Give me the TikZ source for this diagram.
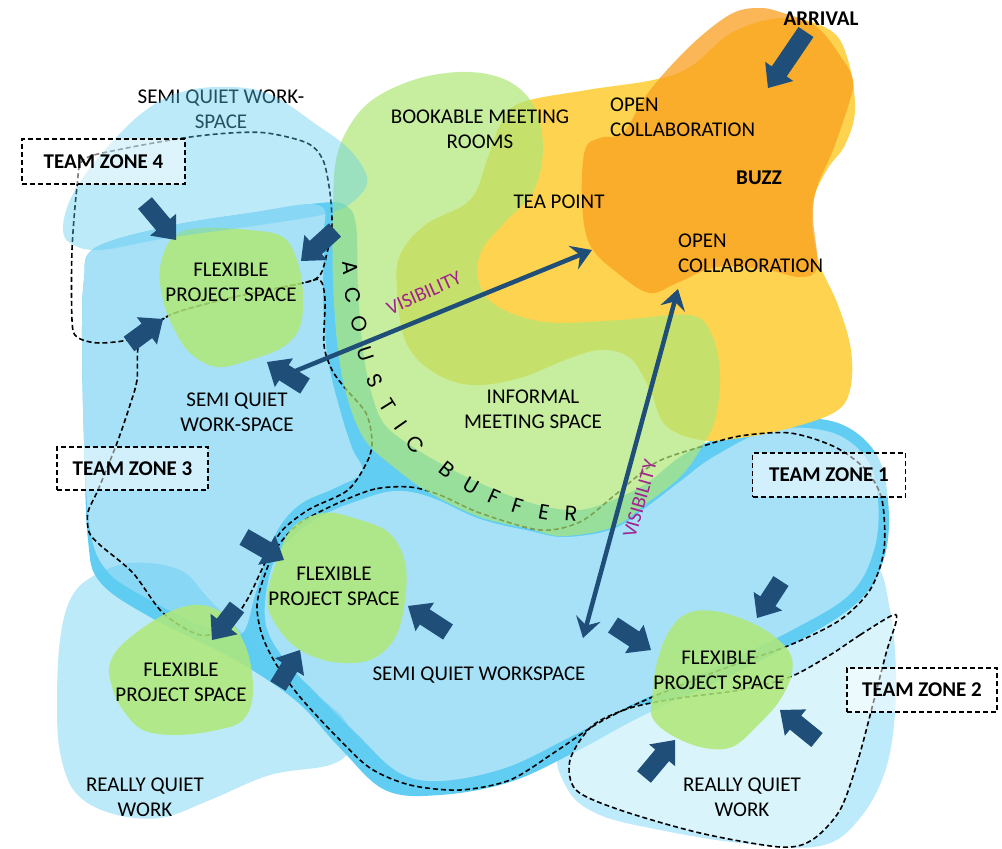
\documentclass[tikz,border=0pt]{standalone}
\usepackage{fontspec}
\setmainfont{Carlito}
\newfontfamily\geofont{Poppins}
\usetikzlibrary{calc,arrows.meta}

\definecolor{navy}{HTML}{1F4E79}
\definecolor{bluedark}{HTML}{62CDF2}
\definecolor{bluemid}{HTML}{A6E1F8}
\definecolor{bluetint}{HTML}{5BCBF1}
\definecolor{bluepale}{HTML}{BDEBFB}
\definecolor{sun}{HTML}{FDD34F}
\definecolor{buzz}{HTML}{FA9F1F}
\definecolor{leaf}{HTML}{B0E877}
\definecolor{visi}{HTML}{A3218E}

\tikzset{
  zoneline/.style={draw=black, line width=1.6pt, dash pattern=on 5pt off 3pt},
  lbl/.style={font=\fontsize{21}{25}\selectfont, align=center, inner sep=0pt},
  boldlbl/.style={font=\bfseries\fontsize{21}{25}\selectfont, align=center, inner sep=0pt},
  zonebox/.style={draw=black, line width=1.6pt, dash pattern=on 5pt off 3pt,
    fill=white, fill opacity=0.5, text opacity=1,
    font=\bfseries\fontsize{21}{25}\selectfont, inner sep=0pt},
  bufletter/.style={font=\geofont\fontsize{21}{21}\selectfont, inner sep=0pt},
  visilbl/.style={text=visi, font=\fontsize{20}{20}\selectfont, inner sep=0pt},
  sightline/.style={draw=navy, line width=4.5pt,
    arrows={-Stealth[length=20pt,width=25pt,inset=7pt]}},
}

% block arrow from tail #1 to tip #2
\newcommand\blockarrow[2]{%
  \coordinate (bahead) at ($(#2)!20pt!(#1)$);
  \fill[navy] ($(#1)!9pt!90:(#2)$) -- ($(bahead)!9pt!90:(#2)$)
    -- ($(bahead)!17pt!90:(#2)$) -- (#2) -- ($(bahead)!17pt!-90:(#2)$)
    -- ($(bahead)!9pt!-90:(#2)$) -- ($(#1)!9pt!-90:(#2)$) -- cycle;
}

\begin{document}
\begin{tikzpicture}[x=1pt,y=-1pt]
\useasboundingbox (0,0) rectangle (1002,849);
\fill[white] (0,0) rectangle (1002,849);

% really quiet area, bottom right
\fill[bluepale] plot[smooth cycle, tension=0.6] coordinates {
 (560,745) (620,700) (720,650) (800,610) (870,565) (890,610) (896,690)
 (887,765) (860,818) (820,846) (740,843) (660,830) (600,815) (568,790)};

% semi quiet workspace: dark base
\fill[bluedark] plot[smooth cycle, tension=0.6] coordinates {
 (95,248) (170,226) (250,213) (320,203) (345,205) (356,225) (358,290)
 (363,350) (372,395) (385,425) (413,447) (447,467) (480,483) (513,497)
 (547,507) (580,510) (613,500) (647,483) (680,457) (713,440) (770,420)
 (835,422) (875,452) (888,500) (885,555) (860,600) (800,640) (710,685)
 (640,717) (575,752) (510,782) (440,795) (385,790) (340,748) (295,700)
 (230,657) (150,617) (100,582) (88,540) (84,440) (82,340) (84,280)};
% semi quiet workspace: lighter left part
\fill[bluemid] plot[smooth cycle, tension=0.6] coordinates {
 (95,248) (170,226) (250,213) (318,205) (324,235) (323,300) (328,360)
 (340,410) (352,448) (362,472) (335,488) (302,503) (280,526) (266,558)
 (255,595) (240,635) (200,625) (150,600) (108,572) (90,530) (84,440)
 (82,340) (84,280)};
% semi quiet workspace: lighter bottom part
\fill[bluemid] plot[smooth cycle, tension=0.6] coordinates {
 (282,548) (318,518) (360,500) (395,491) (430,497) (480,519) (530,531)
 (565,537) (613,529) (648,506) (682,480) (715,456) (770,430) (830,432)
 (866,458) (878,500) (874,550) (850,594) (792,630) (705,672) (635,703)
 (568,738) (505,768) (440,781) (398,772) (358,735) (318,695) (285,660)
 (266,625) (268,582)};

% really quiet area, bottom left
\fill[bluetint, opacity=0.4] plot[smooth cycle, tension=0.6] coordinates {
 (57,700) (60,640) (70,600) (90,578) (130,563) (180,570) (210,600)
 (260,650) (310,690) (345,720) (350,748) (330,765) (270,775) (210,800)
 (160,818) (110,813) (75,792) (60,752)};

% team zone 2 highlight
\fill[white, opacity=0.45] plot[smooth cycle, tension=0.5] coordinates {
 (893,615) (860,635) (830,655) (790,677) (740,690) (680,698) (630,708)
 (592,726) (570,760) (576,790) (620,810) (700,833) (780,847) (812,840)
 (840,810) (858,760) (874,700) (887,650) (896,622)};

% tea point / open collaboration
\fill[sun] plot[smooth cycle, tension=0.6] coordinates {
 (520,103) (587,90) (653,80) (690,67) (733,32) (783,18) (830,30) (848,60)
 (855,110) (845,145) (828,168) (814,197) (812,227) (820,265) (838,305)
 (851,350) (850,390) (835,412) (790,428) (740,438) (700,440) (665,425)
 (650,390) (630,358) (600,350) (565,360) (520,378) (470,385) (430,370)
 (405,340) (397,290) (400,255) (425,225) (470,200) (487,160) (500,125)};
% buzz
\fill[buzz, opacity=0.75] plot[smooth cycle, tension=0.6] coordinates {
 (650,293) (677,283) (717,267) (767,270) (800,277) (817,267) (813,217)
 (817,187) (833,150) (850,100) (853,80) (843,60) (817,27) (783,13) (760,8)
 (733,13) (700,37) (667,70) (643,100) (623,133) (600,138) (585,150)
 (582,200) (590,245) (620,275)};

% team zone outlines
\draw[zoneline] plot[smooth cycle, tension=0.5] coordinates {
 (72,320) (72,250) (77,187) (83,160) (117,150) (183,138) (230,133)
 (267,133) (307,143) (323,160) (330,193) (332,227) (327,253) (320,275)
 (303,283) (230,298) (170,315) (140,337) (100,343) (77,337)};
\draw[zoneline] plot[smooth cycle, tension=0.5] coordinates {
 (140,340) (137,380) (130,405) (117,443) (98,490) (88,512) (89,532)
 (100,545) (133,573) (163,613) (200,635) (227,627) (247,600) (263,567)
 (280,533) (308,510) (348,490) (368,460) (372,440) (366,413) (345,388)
 (332,370) (324,345) (325,300) (320,280) (303,283) (230,298) (170,315)};
\draw[zoneline] plot[smooth cycle, tension=0.5] coordinates {
 (410,487) (375,489) (338,503) (300,523) (278,546) (265,574) (257,605)
 (262,635) (276,664) (300,697) (335,735) (370,768) (410,785) (460,790)
 (510,780) (555,752) (600,722) (650,698) (720,670) (790,645) (840,620)
 (870,590) (884,550) (882,500) (866,470) (835,447) (790,433) (740,436)
 (700,447) (655,463) (615,495) (580,522) (540,530) (480,513) (440,495)};
\draw[zoneline] plot[smooth cycle, tension=0.5] coordinates {
 (893,615) (860,635) (830,655) (790,677) (740,690) (680,698) (630,708)
 (592,726) (570,760) (576,790) (620,810) (700,833) (780,847) (812,840)
 (840,810) (858,760) (874,700) (887,650) (896,622)};

% meeting rooms and acoustic buffer
\fill[leaf, opacity=0.7] plot[smooth cycle, tension=0.6] coordinates {
 (333,210) (336,160) (350,125) (375,98) (420,78) (470,72) (510,82)
 (535,108) (543,150) (533,192) (505,222) (482,250) (478,278) (495,305)
 (545,322) (620,320) (690,315) (712,335) (720,375) (715,420) (700,450)
 (680,477) (647,503) (613,527) (563,536) (530,529) (480,517) (430,493)
 (395,468) (365,440) (348,400) (338,350) (333,280)};

% flexible project spaces
\fill[leaf, opacity=0.85] plot[smooth cycle, tension=0.6] coordinates {
 (160,267) (173,237) (200,228) (250,230) (283,237) (297,260) (303,293)
 (300,327) (283,347) (250,360) (217,367) (190,353) (173,327) (163,300)};
\fill[leaf, opacity=0.85] plot[smooth cycle, tension=0.6] coordinates {
 (267,600) (277,560) (293,527) (323,513) (350,517) (388,532) (405,562)
 (405,600) (395,638) (370,660) (333,662) (300,650) (278,628)};
\fill[leaf, opacity=0.85] plot[smooth cycle, tension=0.6] coordinates {
 (110,663) (127,640) (167,613) (200,605) (227,617) (247,650) (253,693)
 (243,720) (217,730) (177,735) (143,730) (123,710) (112,687)};
\fill[leaf, opacity=0.85] plot[smooth cycle, tension=0.6] coordinates {
 (652,700) (656,667) (668,633) (688,613) (720,612) (760,627) (788,650)
 (792,673) (780,700) (760,723) (732,747) (700,747) (668,733) (652,717)};

% label under the tinted upper left area
\node[lbl] (semitop) at (221,109) {SEMI QUIET WORK-\\SPACE};

% semi quiet work-space, upper left
\fill[bluetint, opacity=0.4] plot[smooth cycle, tension=0.6] coordinates {
 (63,227) (70,200) (87,172) (112,142) (142,113) (175,94) (217,87)
 (267,93) (317,125) (350,150) (367,177) (360,195) (333,212) (267,224)
 (167,238) (100,250) (70,243)};

% team zone labels
\node[zonebox, minimum width=163pt, minimum height=45pt] (tz4) at (103.5,161.5) {TEAM ZONE 4};
\node[zonebox, minimum width=151pt, minimum height=43pt] (tz3) at (132.5,468.5) {TEAM ZONE 3};
\node[zonebox, minimum width=153pt, minimum height=44pt] (tz1) at (829,475) {TEAM ZONE 1};
\node[zonebox, minimum width=150pt, minimum height=44pt] (tz2) at (922,690) {TEAM ZONE 2};

% area labels
\node[boldlbl] (arrival) at (821,19) {ARRIVAL};
\node[boldlbl] (buzzlbl) at (759,178) {BUZZ};
\node[lbl] (flex1) at (231,282) {FLEXIBLE\\PROJECT SPACE};
\node[lbl] (bookable) at (480,129) {BOOKABLE MEETING\\ROOMS};
\node[lbl, align=left, anchor=west] (open1) at (610,117) {OPEN\\COLLABORATION};
\node[lbl] (tea) at (559,202) {TEA POINT};
\node[lbl, align=left, anchor=west] (open2) at (678,253) {OPEN\\COLLABORATION};
\node[lbl] (semimid) at (237,412) {SEMI QUIET\\WORK-SPACE};
\node[lbl] (informal) at (533,409) {INFORMAL\\MEETING SPACE};
\node[lbl] (flex2) at (334,586) {FLEXIBLE\\PROJECT SPACE};
\node[lbl] (flex3) at (181,682) {FLEXIBLE\\PROJECT SPACE};
\node[lbl] (semibot) at (479,675) {SEMI QUIET WORKSPACE};
\node[lbl] (flex4) at (719,670) {FLEXIBLE\\PROJECT SPACE};
\node[lbl] (quietl) at (145,797) {REALLY QUIET\\WORK};
\node[lbl] (quietr) at (742,797) {REALLY QUIET\\WORK};

% acoustic buffer lettering
\node[bufletter, rotate=-85] (ab1) at (350,268) {A};
\node[bufletter, rotate=-82] (ab2) at (353,295) {C};
\node[bufletter, rotate=-78] (ab3) at (359,324) {O};
\node[bufletter, rotate=-72] (ab4) at (366,354) {U};
\node[bufletter, rotate=-64] (ab5) at (375,381) {S};
\node[bufletter, rotate=-58] (ab6) at (388,405) {T};
\node[bufletter, rotate=-55] (ab7) at (401,425) {I};
\node[bufletter, rotate=-48] (ab8) at (415,445) {C};
\node[bufletter, rotate=-38] (ab9) at (447,470) {B};
\node[bufletter, rotate=-30] (ab10) at (471,486) {U};
\node[bufletter, rotate=-24] (ab11) at (494,497) {F};
\node[bufletter, rotate=-17] (ab12) at (518,506) {F};
\node[bufletter, rotate=-10] (ab13) at (544,512) {E};
\node[bufletter, rotate=-4] (ab14) at (571,514) {R};

% visibility lines
\node[visilbl, rotate=24] (vis1) at (424,293) {VISIBILITY};
\node[visilbl, rotate=74] (vis2) at (640,499) {VISIBILITY};
\coordinate (v1a) at (288,374);
\coordinate (v1b) at (592,250);
\coordinate (v2a) at (678,289);
\coordinate (v2b) at (583,638);
\draw[sightline] (v1a) -- (v1b);
\draw[sightline, arrows={Stealth[length=20pt,width=25pt,inset=7pt]-Stealth[length=20pt,width=25pt,inset=7pt]}] (v2a) -- (v2b);

% movement arrows
\coordinate (m1t) at (806,32);   \coordinate (m1h) at (768,88);
\coordinate (m2t) at (145,203);  \coordinate (m2h) at (176,240);
\coordinate (m3t) at (335,230);  \coordinate (m3h) at (301,261);
\coordinate (m4t) at (129,344);  \coordinate (m4h) at (163,319);
\coordinate (m5t) at (305,386);  \coordinate (m5h) at (267,362);
\coordinate (m6t) at (244,537);  \coordinate (m6h) at (284,560);
\coordinate (m7t) at (237,607);  \coordinate (m7h) at (212,640);
\coordinate (m8t) at (278,686);  \coordinate (m8h) at (300,650);
\coordinate (m9t) at (448,632);  \coordinate (m9h) at (408,606);
\coordinate (m10t) at (613,625); \coordinate (m10h) at (651,650);
\coordinate (m11t) at (781,581); \coordinate (m11h) at (757,618);
\coordinate (m12t) at (817,740); \coordinate (m12h) at (780,710);
\coordinate (m13t) at (644,777); \coordinate (m13h) at (675,740);
\blockarrow{m1t}{m1h}
\blockarrow{m2t}{m2h}
\blockarrow{m3t}{m3h}
\blockarrow{m4t}{m4h}
\blockarrow{m5t}{m5h}
\blockarrow{m6t}{m6h}
\blockarrow{m7t}{m7h}
\blockarrow{m8t}{m8h}
\blockarrow{m9t}{m9h}
\blockarrow{m10t}{m10h}
\blockarrow{m11t}{m11h}
\blockarrow{m12t}{m12h}
\blockarrow{m13t}{m13h}
\end{tikzpicture}
\end{document}
